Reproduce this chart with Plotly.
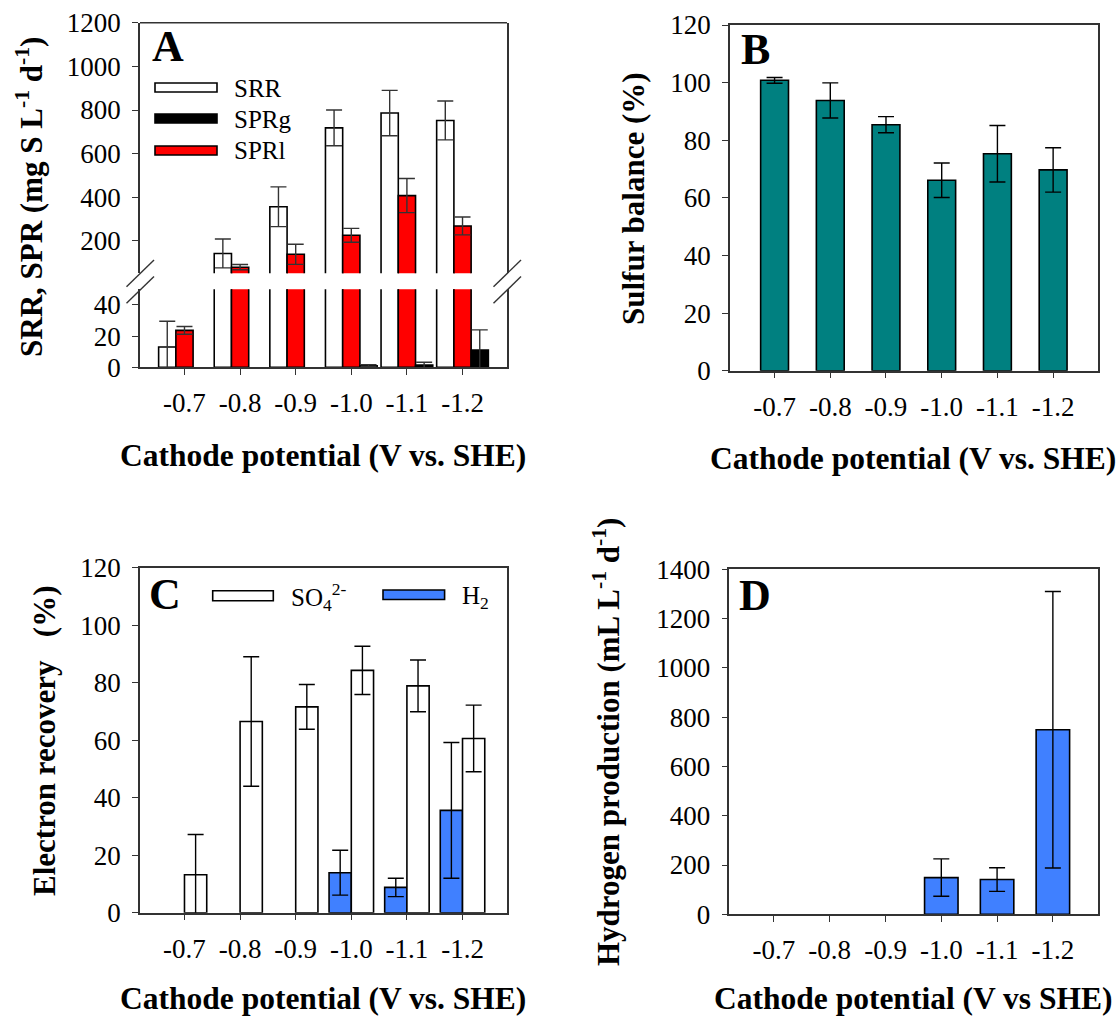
import plotly.graph_objects as go

# ---------------- data ----------------
potentials = ["-0.7", "-0.8", "-0.9", "-1.0", "-1.1", "-1.2"]

# Panel A (mg S L-1 d-1)
srr = [13, 143, 357, 718, 786, 752]
srr_err = [16.5, 66, 91, 82, 104, 89]
sprl = [23.7, 80, 139, 226, 408, 269]
sprl_err = [2.5, 12, 46, 32, 78, 41]
sprg = [0, 0, 0, 1.0, 1.5, 11]
sprg_err = [0, 0, 0, 0.6, 1.7, 13]

# Panel B (%)
sulfur_balance = [100.8, 93.8, 85.4, 66.1, 75.3, 69.7]
sulfur_balance_err = [1.0, 6.1, 2.8, 6.0, 9.8, 7.7]

# Panel C (%)
er_so4 = [13.2, 66.5, 71.6, 84.3, 78.9, 60.6]
er_so4_err = [14, 22.5, 7.8, 8.4, 9.0, 11.6]
er_h2 = [0, 0, 0, 13.9, 8.8, 35.6]
er_h2_err = [0, 0, 0, 7.8, 3.2, 23.6]

# Panel D (mL L-1 d-1)
h2_prod = [0, 0, 0, 149, 141, 749]
h2_prod_err = [0, 0, 0, 76, 48, 561]

# ---------------- styling ----------------
W, H = 1120, 1018
FONT = "Liberation Serif, Times New Roman, serif"
TICKFONT = dict(family=FONT, size=27, color="black")
LINEC = "#333333"
RED = "#FF0000"
TEAL = "#008080"
BLUE = "#4080FF"


def px(x):
    return x / W


def py(y):
    return 1 - y / H


fig = go.Figure()


def bar(y, err, color, xa, ya, name, errcolor=LINEC):
    # zero values are drawn as absent bars (nothing visible in the original)
    yv = [v if v else None for v in y]
    ev = [e if v else None for v, e in zip(y, err)]
    fig.add_trace(go.Bar(
        x=potentials, y=yv, name=name, xaxis=xa, yaxis=ya,
        marker=dict(color=color, line=dict(color="black", width=1.6)),
        error_y=dict(type="data", array=ev, visible=True, color=errcolor,
                     thickness=1.4, width=8),
        showlegend=False,
    ))


# Panel A: lower (y) and upper (y2) sections
for ya in ["y", "y2"]:
    bar(srr, srr_err, "white", "x", ya, "SRR")
    bar(sprl, sprl_err, RED, "x", ya, "SPRl")
    bar(sprg, sprg_err, "black", "x", ya, "SPRg")

# Panel B
bar(sulfur_balance, sulfur_balance_err, TEAL, "x2", "y3", "Sulfur balance", "black")

# Panel C
bar(er_h2, er_h2_err, BLUE, "x3", "y4", "H2", "black")
bar(er_so4, er_so4_err, "white", "x3", "y4", "SO4", "black")

# Panel D
bar(h2_prod, h2_prod_err, BLUE, "x4", "y5", "H2 production", "black")


def xaxis_cfg(domain, anchor, mirror):
    return dict(
        domain=domain, anchor=anchor, type="category",
        categoryorder="array", categoryarray=potentials,
        range=[-0.8, 5.8], showline=True, linecolor=LINEC, linewidth=1.5,
        mirror=mirror, ticks="outside", ticklen=6, tickwidth=1.3,
        tickcolor=LINEC, tickfont=TICKFONT, ticklabelstandoff=5,
        showgrid=False, zeroline=False, fixedrange=True, automargin=False,
    )


def yaxis_cfg(domain, anchor, rng, tickvals):
    return dict(
        domain=domain, anchor=anchor, range=rng, tickvals=tickvals,
        showline=True, linecolor=LINEC, linewidth=1.5, mirror=True,
        ticks="outside", ticklen=6, tickwidth=1.3, tickcolor=LINEC,
        tickfont=TICKFONT, ticklabelstandoff=6,
        showgrid=False, zeroline=False, fixedrange=True, automargin=False,
    )


fig.update_layout(
    width=W, height=H, autosize=False,
    margin=dict(l=0, r=0, t=0, b=0, pad=0, autoexpand=False),
    paper_bgcolor="white", plot_bgcolor="white",
    showlegend=False,
    barmode="group", bargap=0.065, bargroupgap=0,
    font=dict(family=FONT, color="black"),
    xaxis=xaxis_cfg([px(140), px(507)], "y", False),
    yaxis=yaxis_cfg([py(367.3), py(289.3)], "x", [0, 50], [0, 20, 40]),
    yaxis2=yaxis_cfg([py(273.3), py(22.7)], "x", [52, 1200],
                     [200, 400, 600, 800, 1000, 1200]),
    xaxis2=xaxis_cfg([px(730), px(1097.7)], "y3", True),
    yaxis3=yaxis_cfg([py(370.7), py(25)], "x2", [0, 120],
                     [0, 20, 40, 60, 80, 100, 120]),
    xaxis3=xaxis_cfg([px(140), px(507)], "y4", True),
    yaxis4=yaxis_cfg([py(912.7), py(567.7)], "x3", [0, 120],
                     [0, 20, 40, 60, 80, 100, 120]),
    xaxis4=xaxis_cfg([px(729.3), px(1097.5)], "y5", True),
    yaxis5=yaxis_cfg([py(914.3), py(569.3)], "x4", [0, 1400],
                     [0, 200, 400, 600, 800, 1000, 1200, 1400]),
)

# bar widths / offsets per panel
for tr in fig.data:
    if tr.xaxis == "x2":
        tr.width = 0.5
    elif tr.xaxis == "x4":
        tr.width = 0.6
    elif tr.xaxis == "x3":
        tr.width = 0.4
        tr.offset = -0.4 if tr.name == "H2" else 0.0
    else:
        tr.width = 0.31
        tr.offset = {"SRR": -0.465, "SPRl": -0.155, "SPRg": 0.155}[tr.name]

shapes = []
# top frame line for panel A upper section
shapes.append(dict(type="line", xref="paper", yref="paper",
                   x0=px(140), x1=px(507), y0=py(22.7), y1=py(22.7),
                   line=dict(color=LINEC, width=1.5)))
# axis break marks
for (x0, x1) in [(126.5, 154), (493.5, 521)]:
    for dy in [0, 16.6]:
        shapes.append(dict(type="line", xref="paper", yref="paper",
                           x0=px(x0), x1=px(x1), y0=py(286.7 + dy), y1=py(260 + dy),
                           line=dict(color=LINEC, width=1.4)))
# legend A
for (y0, y1, col) in [(83, 92, "white"), (114, 123, "black"), (146, 155, RED)]:
    shapes.append(dict(type="rect", xref="paper", yref="paper",
                       x0=px(155), x1=px(217), y0=py(y1), y1=py(y0),
                       fillcolor=col, line=dict(color="black", width=1.6)))
# legend C
shapes.append(dict(type="rect", xref="paper", yref="paper",
                   x0=px(212.7), x1=px(273.3), y0=py(600.7), y1=py(590.7),
                   fillcolor="white", line=dict(color="black", width=1.6)))
shapes.append(dict(type="rect", xref="paper", yref="paper",
                   x0=px(383), x1=px(444.6), y0=py(599.5), y1=py(590),
                   fillcolor=BLUE, line=dict(color="black", width=1.6)))
fig.update_layout(shapes=shapes)

ann = []


def text(x, y, s, size, xanchor="center", yanchor="middle", angle=0):
    ann.append(dict(x=px(x), y=py(y), xref="paper", yref="paper", text=s,
                    showarrow=False, xanchor=xanchor, yanchor=yanchor,
                    textangle=angle, font=dict(family=FONT, size=size, color="black")))


# panel letters
text(150, 47, "<b>A</b>", 44, "left")
text(739, 50, "<b>B</b>", 44, "left")
text(147, 594, "<b>C</b>", 44, "left")
text(737, 595, "<b>D</b>", 44, "left")

# legend labels
text(232, 88, "SRR", 25, "left")
text(232, 119, "SPRg", 25, "left")
text(232, 151, "SPRl", 25, "left")
text(289, 597, "SO<sub>4</sub><sup>2-</sup>", 25, "left")
text(460, 597, "H<sub>2</sub>", 25, "left")

# x titles
TS = 31.5
text(323, 455, "<b>Cathode potential (V vs. SHE)</b>", TS)
text(913, 458, "<b>Cathode potential (V vs. SHE)</b>", TS)
text(323, 998, "<b>Cathode potential (V vs. SHE)</b>", TS)
text(913, 998, "<b>Cathode potential (V vs SHE)</b>", TS)

# y titles
text(30, 197, "<b>SRR, SPR (mg S L<sup>-1</sup> d<sup>-1</sup>)</b>", 31, angle=-90)
text(634, 199, "<b>Sulfur balance (%)</b>", 31, angle=-90)
text(44, 741, "<b>Electron recovery\u00a0\u00a0\u00a0(%)</b>", 31, angle=-90)
text(606, 742, "<b>Hydrogen production (mL L<sup>-1</sup> d<sup>-1</sup>)</b>", 31, angle=-90)

fig.update_layout(annotations=ann)

fig.write_html("out.html")
